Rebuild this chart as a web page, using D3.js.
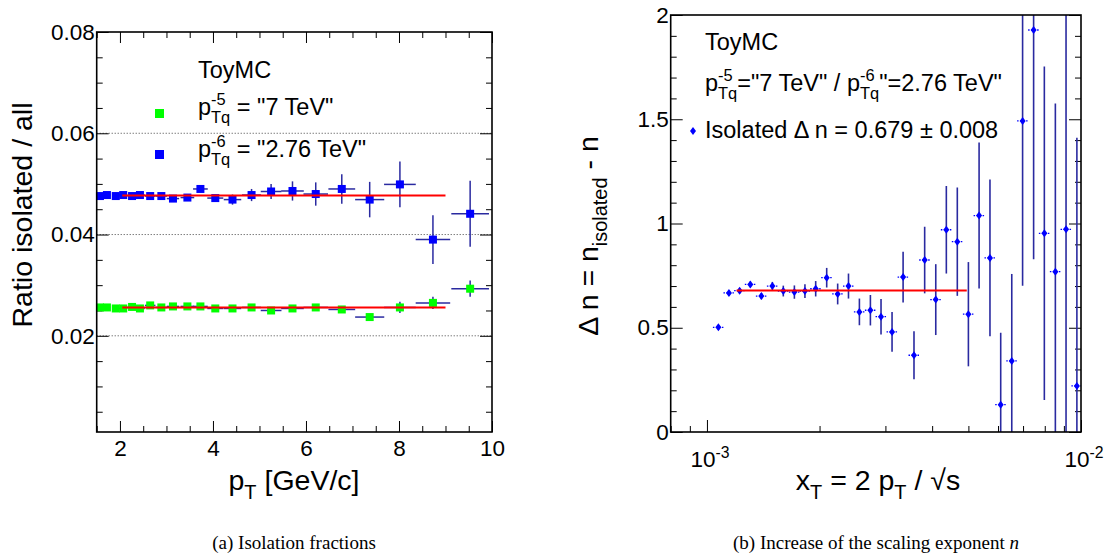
<!DOCTYPE html>
<html lang="en">
<head>
<meta charset="UTF-8">
<title>Isolation fractions / scaling exponent</title>
<style>
  body { margin: 0; background: #fff; }
  svg text { font-family: "Liberation Sans", Arial, sans-serif; fill: #000; white-space: pre; }
  .cap { font-family: "Liberation Serif", "Times New Roman", serif; }
  .tick line { stroke: #000; stroke-width: 1; }
</style>
</head>
<body>
<svg id="chart" width="1105" height="554"></svg>
<script src="https://d3js.org/d3.v7.min.js"></script>
<script>
// ---- left panel: ratio isolated / all vs pT ----
const ptCenters   = [1.57,1.72,1.91,2.07,2.26,2.43,2.65,2.89,3.14,3.45,3.73,4.05,4.42,4.83,5.25,5.71,6.21,6.77,7.37,8.02,8.73,9.53];
const ptHalfWidth = [0.067,0.073,0.081,0.088,0.096,0.103,0.113,0.123,0.133,0.147,0.158,0.172,0.188,0.205,0.223,0.243,0.264,0.288,0.313,0.341,0.371,0.405];
const ratio276    = [0.0476,0.0478,0.0476,0.0478,0.0476,0.0478,0.0476,0.0476,0.0471,0.0473,0.0490,0.0472,0.0469,0.0478,0.0485,0.0486,0.0480,0.0490,0.0469,0.0499,0.0390,0.0441];
const ratio276Err = [0.0002,0.0002,0.0002,0.0002,0.0002,0.0002,0.0002,0.0002,0.0002,0.0003,0.0003,0.0003,0.0010,0.0012,0.0015,0.0019,0.0023,0.0029,0.0035,0.0045,0.0048,0.0065];
const ratio7      = [0.0256,0.0256,0.0254,0.0254,0.0257,0.0254,0.0260,0.0256,0.0258,0.0258,0.0258,0.0254,0.0254,0.0256,0.0250,0.0254,0.0256,0.0252,0.0237,0.0256,0.0265,0.0293];
const ratio7Err   = [0.0001,0.0001,0.0001,0.0001,0.0001,0.0001,0.0001,0.0001,0.0001,0.0001,0.0001,0.0001,0.0002,0.0002,0.0002,0.0003,0.0003,0.0004,0.0005,0.0011,0.0012,0.0016];
const fit276 = 0.0477, fit7 = 0.0256, fitPtRange = [2.05, 9.0];
const leftYTicks = [0.02, 0.04, 0.06, 0.08];
const leftXTicks = [2, 4, 6, 8, 10];

// ---- right panel: delta n vs xT ----
const xT    = [1.073e-3,1.145e-3,1.223e-3,1.306e-3,1.398e-3,1.496e-3,1.600e-3,1.713e-3,1.828e-3,1.953e-3,2.09e-3,2.236e-3,2.39e-3,2.556e-3,2.735e-3,2.92e-3,3.125e-3,3.345e-3,3.577e-3,3.82e-3,4.09e-3,4.365e-3,4.67e-3,5.0e-3,5.34e-3,5.71e-3,6.10e-3,6.53e-3,6.98e-3,7.47e-3,7.98e-3,8.54e-3,9.12e-3,9.75e-3];
const dn    = [0.502,0.667,0.678,0.708,0.652,0.700,0.676,0.671,0.676,0.687,0.740,0.662,0.700,0.576,0.584,0.553,0.480,0.743,0.368,0.825,0.635,0.970,0.913,0.565,1.038,0.835,0.131,0.341,1.492,1.928,0.953,0.769,0.972,0.221];
const dnErr = [0.010,0.012,0.012,0.014,0.015,0.020,0.026,0.032,0.033,0.037,0.047,0.050,0.060,0.064,0.073,0.085,0.095,0.122,0.115,0.160,0.170,0.210,0.260,0.250,0.350,0.376,0.345,0.417,0.790,1.100,0.800,0.807,1.300,1.190];
const xTHalfDex = 0.0147;          // bin half width in decades
const fitDn = 0.679, fitXtRange = [1.2e-3, 4.95e-3];
const rightYTicks = [0, 0.5, 1, 1.5, 2];

const svg = d3.select("#chart");
const errColor = "#2a2aa0";
const FS = 22.5;     // tick labels
const LEG = 23.5;    // legend text
const TIT = 28.5;    // axis titles

// text with stacked super/subscripts, returns width
function rich(g, x, y, parts, size, cls) {
    let cx = x;
    parts.forEach(p => {
        if (typeof p === "string") {
            const t = g.append("text").attr("x", cx).attr("y", y).attr("font-size", size).text(p);
            if (cls) t.attr("class", cls);
            cx += t.node().getComputedTextLength();
        } else if (p.it) {
            const t = g.append("text").attr("x", cx).attr("y", y).attr("font-size", size)
                .attr("font-style", "italic").text(p.it);
            if (cls) t.attr("class", cls);
            cx += t.node().getComputedTextLength();
        } else {
            const s = size * 0.7; let w = 0;
            if (p.sup) {
                const t = g.append("text").attr("x", cx).attr("y", y - size * 0.42).attr("font-size", s).text(p.sup);
                w = Math.max(w, t.node().getComputedTextLength());
            }
            if (p.sub) {
                const t = g.append("text").attr("x", cx).attr("y", y + size * 0.32).attr("font-size", s).text(p.sub);
                w = Math.max(w, t.node().getComputedTextLength());
            }
            cx += w;
        }
    });
    return cx - x;
}
function centered(x, y, parts, size, rotate, cls) {
    const g = svg.append("g");
    const w = rich(g, 0, 0, parts, size, cls);
    g.attr("transform", rotate ? `translate(${x},${y}) rotate(-90) translate(${-w / 2},0)`
                               : `translate(${x - w / 2},${y})`);
}
function minorTicks(g, axisGen, scale, values, size) {
    g.call(axisGen(scale).tickValues(values).tickSize(size).tickFormat(""))
     .call(a => a.select(".domain").remove());
}

// ================= LEFT PANEL =================
const L = { x0: 96.7, x1: 492, y0: 32, y1: 432 };
const xL = d3.scaleLinear().domain([1.5, 10]).range([L.x0, L.x1]);
const yL = d3.scaleLinear().domain([0.001, 0.08]).range([L.y1, L.y0]);

const gl = svg.append("g");
// dotted grid
gl.selectAll("line.grid").data(leftYTicks.slice(0, 3)).join("line")
  .attr("x1", L.x0).attr("x2", L.x1).attr("y1", d => yL(d)).attr("y2", d => yL(d))
  .attr("stroke", "#444").attr("stroke-width", 1).attr("stroke-dasharray", "1,2");

const yMinorL = d3.range(0.005, 0.08, 0.005).filter(v => Math.abs(v / 0.02 - Math.round(v / 0.02)) > 1e-6);
const xMinorL = d3.range(1.5, 10.01, 0.5).filter(v => Math.abs(v / 2 - Math.round(v / 2)) > 1e-6);

gl.append("g").attr("transform", `translate(${L.x0},0)`)
  .call(d3.axisLeft(yL).tickValues(leftYTicks).tickSize(-12).tickPadding(2).tickFormat(d3.format(".2f")))
  .call(a => a.select(".domain").remove())
  .call(a => a.selectAll("text").attr("font-size", FS).attr("font-family", null));
minorTicks(gl.append("g").attr("transform", `translate(${L.x0},0)`), d3.axisLeft, yL, yMinorL, -6);
minorTicks(gl.append("g").attr("transform", `translate(${L.x1},0)`), d3.axisRight, yL, leftYTicks, -12);
minorTicks(gl.append("g").attr("transform", `translate(${L.x1},0)`), d3.axisRight, yL, yMinorL, -6);

gl.append("g").attr("transform", `translate(0,${L.y1})`)
  .call(d3.axisBottom(xL).tickValues(leftXTicks).tickSize(-11).tickPadding(8).tickFormat(d3.format("d")))
  .call(a => a.select(".domain").remove())
  .call(a => a.selectAll("text").attr("font-size", FS).attr("font-family", null));
minorTicks(gl.append("g").attr("transform", `translate(0,${L.y1})`), d3.axisBottom, xL, xMinorL, -6);
minorTicks(gl.append("g").attr("transform", `translate(0,${L.y0})`), d3.axisTop, xL, leftXTicks, -11);
minorTicks(gl.append("g").attr("transform", `translate(0,${L.y0})`), d3.axisTop, xL, xMinorL, -6);

function drawSeries(g, vals, errs, color) {
    const d = ptCenters.map((x, i) => ({ x, hw: ptHalfWidth[i], y: vals[i], e: errs[i] }));
    g.selectAll(null).data(d).join("line")
      .attr("x1", p => xL(p.x - p.hw)).attr("x2", p => xL(p.x + p.hw))
      .attr("y1", p => yL(p.y)).attr("y2", p => yL(p.y))
      .attr("stroke", errColor).attr("stroke-width", 1.5);
    g.selectAll(null).data(d).join("line")
      .attr("x1", p => xL(p.x)).attr("x2", p => xL(p.x))
      .attr("y1", p => yL(p.y - p.e)).attr("y2", p => yL(p.y + p.e))
      .attr("stroke", errColor).attr("stroke-width", 1.5);
    g.selectAll(null).data(d).join("rect")
      .attr("x", p => xL(p.x) - 4).attr("y", p => yL(p.y) - 4)
      .attr("width", 8).attr("height", 8).attr("fill", color);
}
drawSeries(gl.append("g"), ratio276, ratio276Err, "#0000ff");
drawSeries(gl.append("g"), ratio7, ratio7Err, "#00ff00");
[fit276, fit7].forEach(f => {
    gl.append("line").attr("x1", xL(fitPtRange[0])).attr("x2", xL(fitPtRange[1]))
      .attr("y1", yL(f)).attr("y2", yL(f)).attr("stroke", "#ff0000").attr("stroke-width", 2);
});
gl.append("rect").attr("x", L.x0).attr("y", L.y0).attr("width", L.x1 - L.x0).attr("height", L.y1 - L.y0)
  .attr("fill", "none").attr("stroke", "#000").attr("stroke-width", 1.6);

// legend
rich(gl, 198, 78, ["ToyMC"], LEG);
gl.append("rect").attr("x", 155).attr("y", 109).attr("width", 9).attr("height", 9).attr("fill", "#00ff00");
rich(gl, 198, 115, ["p", { sup: "-5", sub: "Tq" }, ' = "7 TeV"'], LEG);
gl.append("rect").attr("x", 155).attr("y", 150).attr("width", 9).attr("height", 9).attr("fill", "#0000ff");
rich(gl, 198, 157, ["p", { sup: "-6", sub: "Tq" }, ' = "2.76 TeV"'], LEG);

// titles
centered(294, 490, ["p", { sub: "T" }, " [GeV/c]"], TIT);
centered(32, 215, ["Ratio isolated / all"], TIT, true);

// ================= RIGHT PANEL =================
const R = { x0: 670.7, x1: 1081, y0: 15, y1: 432 };
const xR = d3.scaleLog().domain([8e-4, 1e-2]).range([R.x0, R.x1]);
const yR = d3.scaleLinear().domain([0, 2]).range([R.y1, R.y0]);
const gr = svg.append("g");

const yMinorR = d3.range(0.1, 2, 0.1).filter(v => Math.abs(v * 2 - Math.round(v * 2)) > 1e-6);
const xMajorR = [1e-3, 1e-2];
const xMinorR = [8e-4, 9e-4, 2e-3, 3e-3, 4e-3, 5e-3, 6e-3, 7e-3, 8e-3, 9e-3];

gr.append("g").attr("transform", `translate(${R.x0},0)`)
  .call(d3.axisLeft(yR).tickValues(rightYTicks).tickSize(-12).tickPadding(2).tickFormat(d3.format("~g")))
  .call(a => a.select(".domain").remove())
  .call(a => a.selectAll("text").attr("font-size", FS).attr("font-family", null));
minorTicks(gr.append("g").attr("transform", `translate(${R.x0},0)`), d3.axisLeft, yR, yMinorR, -6);
minorTicks(gr.append("g").attr("transform", `translate(${R.x1},0)`), d3.axisRight, yR, rightYTicks, -12);
minorTicks(gr.append("g").attr("transform", `translate(${R.x1},0)`), d3.axisRight, yR, yMinorR, -6);
minorTicks(gr.append("g").attr("transform", `translate(0,${R.y1})`), d3.axisBottom, xR, xMajorR, -12);
minorTicks(gr.append("g").attr("transform", `translate(0,${R.y1})`), d3.axisBottom, xR, xMinorR, -6);
xMajorR.forEach(v => {
    const g = svg.append("g");
    const w = rich(g, 0, 0, ["10", { sup: String(Math.round(Math.log10(v))) }], FS);
    g.attr("transform", `translate(${xR(v) - w / 2 + 3},${R.y1 + 35})`);
});

svg.append("clipPath").attr("id", "clipR").append("rect")
  .attr("x", R.x0).attr("y", R.y0).attr("width", R.x1 - R.x0).attr("height", R.y1 - R.y0);
const gd = gr.append("g").attr("clip-path", "url(#clipR)");
const pts = xT.map((x, i) => ({ x, y: dn[i], e: dnErr[i] }));
gd.selectAll(null).data(pts).join("line")
  .attr("x1", p => xR(p.x)).attr("x2", p => xR(p.x))
  .attr("y1", p => yR(p.y - p.e)).attr("y2", p => yR(p.y + p.e))
  .attr("stroke", errColor).attr("stroke-width", 1.6);
gd.selectAll(null).data(pts).join("line")
  .attr("x1", p => xR(p.x * Math.pow(10, -xTHalfDex))).attr("x2", p => xR(p.x * Math.pow(10, xTHalfDex)))
  .attr("y1", p => yR(p.y)).attr("y2", p => yR(p.y))
  .attr("stroke", "#0000ff").attr("stroke-width", 1.3).attr("stroke-dasharray", "1.5,1.5");
const diamond = "M0,-4L3,0L0,4L-3,0Z";
gd.selectAll(null).data(pts).join("path")
  .attr("d", diamond).attr("transform", p => `translate(${xR(p.x)},${yR(p.y)})`).attr("fill", "#0000ff");
gr.append("line").attr("x1", xR(fitXtRange[0])).attr("x2", xR(fitXtRange[1]))
  .attr("y1", yR(fitDn)).attr("y2", yR(fitDn)).attr("stroke", "#ff0000").attr("stroke-width", 2);
gr.append("rect").attr("x", R.x0).attr("y", R.y0).attr("width", R.x1 - R.x0).attr("height", R.y1 - R.y0)
  .attr("fill", "none").attr("stroke", "#000").attr("stroke-width", 1.6);

// legend
rich(gr, 705, 50, ["ToyMC"], LEG);
rich(gr, 705, 91, ["p", { sup: "-5", sub: "Tq" }, '="7 TeV" / p', { sup: "-6", sub: "Tq" }, '"=2.76 TeV"'], LEG);
gr.append("path").attr("d", diamond).attr("transform", "translate(693,131)").attr("fill", "#0000ff");
rich(gr, 705, 138, ["Isolated \u0394 n = 0.679 \u00b1 0.008"], LEG);

// titles
centered(878, 490, ["x", { sub: "T" }, " = 2 p", { sub: "T" }, " / \u221As"], TIT);
centered(598, 236, ["\u0394 n = n", { sub: "isolated" }, " - n"], TIT, true);

// captions
centered(294, 549, ["(a) Isolation fractions"], 19, false, "cap");
centered(876, 549, ["(b) Increase of the scaling exponent ", { it: "n" }], 19, false, "cap");
</script>
</body>
</html>
